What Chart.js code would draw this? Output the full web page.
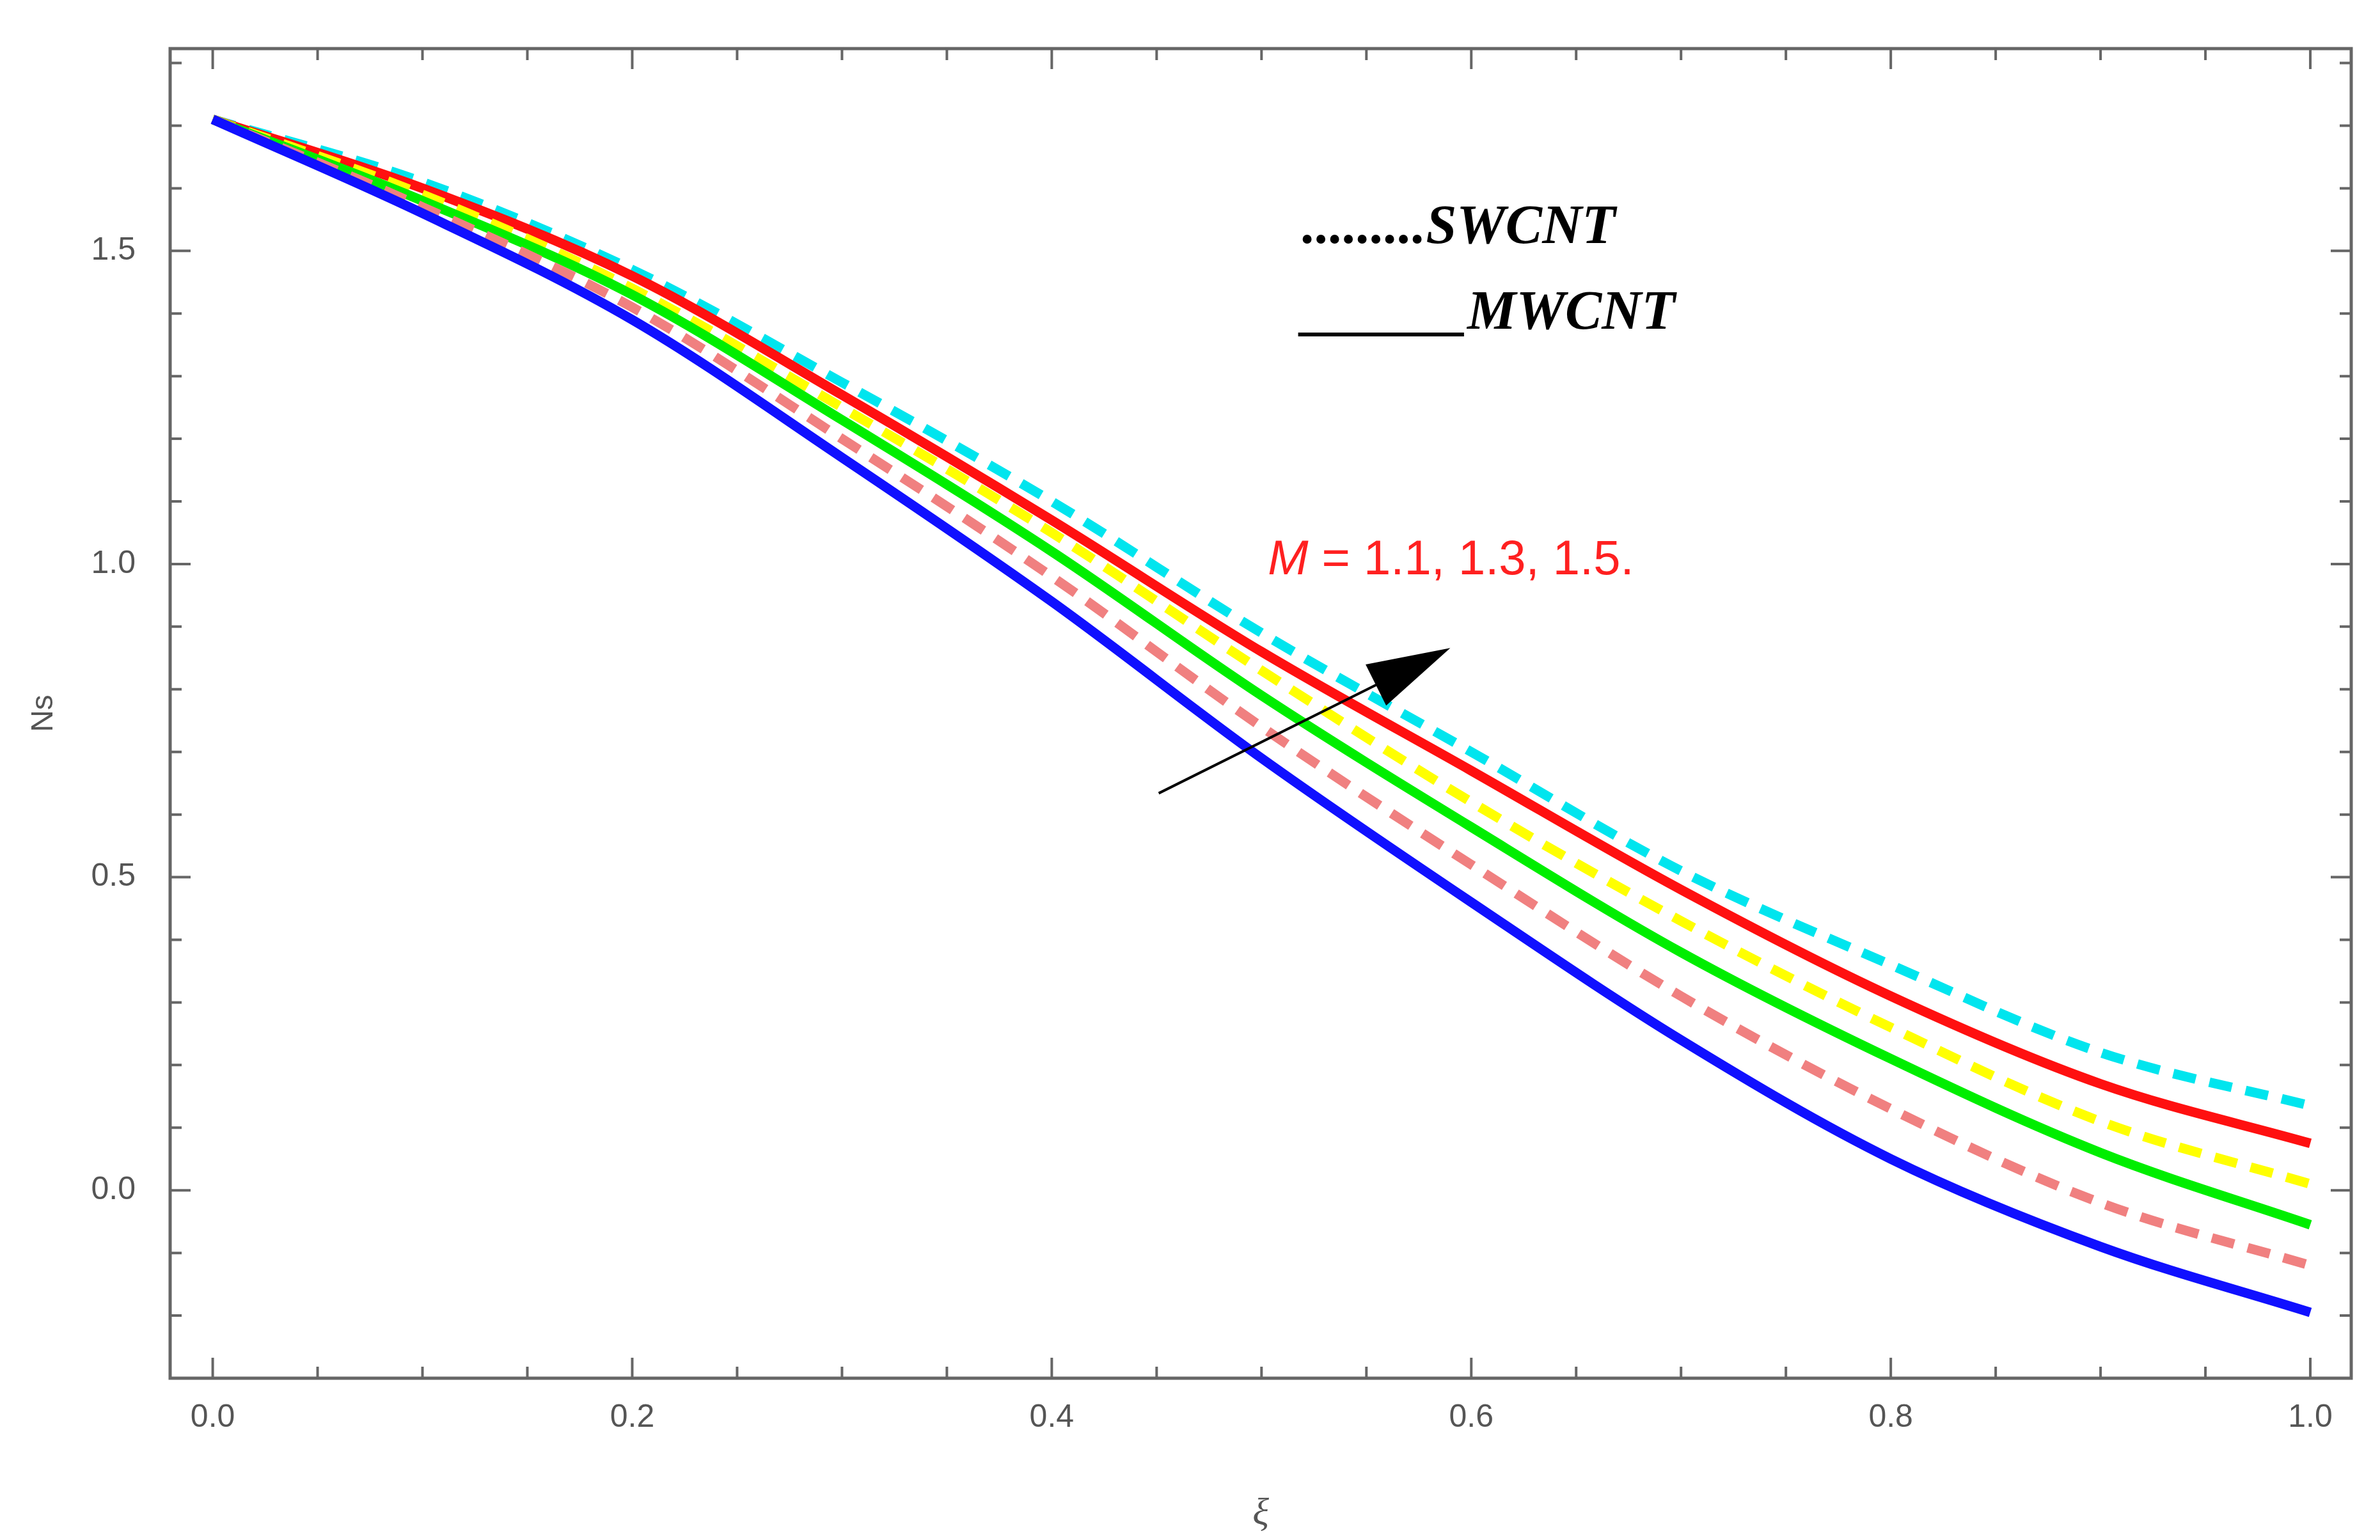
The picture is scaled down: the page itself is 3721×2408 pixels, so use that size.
<!DOCTYPE html>
<html>
<head>
<meta charset="utf-8">
<script src="https://cdn.jsdelivr.net/npm/chart.js@4.4.1/dist/chart.umd.min.js"></script>
<style>
  html, body { margin: 0; padding: 0; background: #fff; }
  #wrap { width: 3721px; height: 2408px; }
</style>
</head>
<body>
<div id="wrap"><canvas id="chart" width="3721" height="2408"></canvas></div>
<script>
// xi values
const xi = [0, 0.1, 0.2, 0.3, 0.4, 0.5, 0.6, 0.7, 0.8, 0.9, 1.0];

// MWCNT (solid)
const mwBlue  = [1.71, 1.56, 1.39, 1.17, 0.94, 0.69, 0.46, 0.24, 0.05, -0.09, -0.195];
const mwGreen = [1.71, 1.58, 1.43, 1.23, 1.02, 0.79, 0.58, 0.38, 0.21, 0.06, -0.055];
const mwRed   = [1.71, 1.60, 1.46, 1.27, 1.07, 0.86, 0.67, 0.48, 0.31, 0.17, 0.075];
// SWCNT (dashed)
const swPink   = [1.71, 1.57, 1.41, 1.20, 0.98, 0.74, 0.52, 0.31, 0.13, -0.02, -0.12];
const swYellow = [1.71, 1.59, 1.44, 1.25, 1.05, 0.83, 0.62, 0.43, 0.26, 0.11, 0.01];
const swCyan   = [1.71, 1.61, 1.47, 1.29, 1.10, 0.89, 0.70, 0.51, 0.36, 0.22, 0.135];

const xTicks = [0, 0.2, 0.4, 0.6, 0.8, 1.0];
const yTicks = [0, 0.5, 1.0, 1.5];

const pts = arr => arr.map((v, i) => ({ x: xi[i], y: v }));
const AXIS = '#666666';

const series = (data, color, dashed) => ({
    data: pts(data),
    borderColor: color,
    borderWidth: 15,
    borderDash: dashed ? [36, 22] : [],
    pointRadius: 0,
    cubicInterpolationMode: 'monotone',
    fill: false
});

// frame, inward ticks, arrow and text notes
const decor = {
    id: 'decor',
    afterDraw(chart) {
        const { ctx, chartArea: a, scales: { x, y } } = chart;
        ctx.save();
        ctx.strokeStyle = AXIS;
        ctx.lineWidth = 5;
        ctx.strokeRect(a.left, a.top, a.right - a.left, a.bottom - a.top);
        ctx.lineWidth = 4;
        for (let v = 0; v <= 1.0001; v += 0.05) {
            const px = x.getPixelForValue(v);
            const major = Math.abs(v * 5 - Math.round(v * 5)) < 1e-6;
            const len = major ? 32 : 18;
            ctx.beginPath();
            ctx.moveTo(px, a.bottom); ctx.lineTo(px, a.bottom - len);
            ctx.moveTo(px, a.top); ctx.lineTo(px, a.top + len);
            ctx.stroke();
        }
        for (let v = -0.2; v <= 1.8001; v += 0.1) {
            const py = y.getPixelForValue(v);
            const major = Math.abs(v * 2 - Math.round(v * 2)) < 1e-6;
            const len = major ? 32 : 18;
            ctx.beginPath();
            ctx.moveTo(a.left, py); ctx.lineTo(a.left + len, py);
            ctx.moveTo(a.right, py); ctx.lineTo(a.right - len, py);
            ctx.stroke();
        }

        // arrow
        const x0 = x.getPixelForValue(0.451), y0 = y.getPixelForValue(0.634);
        const x1 = x.getPixelForValue(0.590), y1 = y.getPixelForValue(0.866);
        const ang = Math.atan2(y1 - y0, x1 - x0);
        ctx.strokeStyle = '#000'; ctx.fillStyle = '#000'; ctx.lineWidth = 4;
        ctx.beginPath();
        ctx.moveTo(x0, y0);
        ctx.lineTo(x1 - 100 * Math.cos(ang), y1 - 100 * Math.sin(ang));
        ctx.stroke();
        ctx.beginPath();
        ctx.moveTo(x1, y1);
        ctx.lineTo(x1 - 130 * Math.cos(ang) + 36 * Math.sin(ang), y1 - 130 * Math.sin(ang) - 36 * Math.cos(ang));
        ctx.lineTo(x1 - 130 * Math.cos(ang) - 36 * Math.sin(ang), y1 - 130 * Math.sin(ang) + 36 * Math.cos(ang));
        ctx.closePath();
        ctx.fill();

        // M label
        ctx.fillStyle = '#ff2020';
        ctx.textBaseline = 'middle';
        ctx.textAlign = 'left';
        const mx = x.getPixelForValue(0.503), my = y.getPixelForValue(1.005);
        ctx.font = 'italic 76px "Liberation Sans", Arial, sans-serif';
        ctx.fillText('M', mx, my);
        const mw = ctx.measureText('M').width;
        ctx.font = '76px "Liberation Sans", Arial, sans-serif';
        ctx.fillText(' = 1.1, 1.3, 1.5.', mx + mw, my);

        // line-style notes
        ctx.fillStyle = '#000';
        ctx.font = 'bold italic 86px "Liberation Serif", "Times New Roman", serif';
        ctx.textBaseline = 'alphabetic';
        ctx.fillText('.........SWCNT', 2036, 380);
        ctx.fillText('______MWCNT', 2036, 514);
        ctx.restore();
    }
};

new Chart(document.getElementById('chart'), {
    type: 'line',
    data: {
        datasets: [
            series(mwBlue, '#1010ff', false),
            series(swPink, '#f08080', true),
            series(mwGreen, '#00ee00', false),
            series(swYellow, '#ffff00', true),
            series(mwRed, '#ff1010', false),
            series(swCyan, '#00e5ee', true)
        ]
    },
    options: {
        responsive: false,
        animation: false,
        devicePixelRatio: 1,
        layout: { padding: { top: 30, right: 45, left: 0, bottom: 0 } },
        plugins: { legend: { display: false }, tooltip: { enabled: false } },
        scales: {
            x: {
                type: 'linear', min: -0.0203, max: 1.0195,
                afterFit: s => { s.height = 253; },
                afterBuildTicks: s => { s.ticks = xTicks.map(v => ({ value: v })); },
                grid: { display: false },
                border: { display: false },
                ticks: {
                    color: '#555', padding: 24,
                    font: { size: 50, family: '"Liberation Sans", Arial, sans-serif' },
                    callback: v => v.toFixed(1)
                },
                title: {
                    display: true, text: 'ξ', color: '#555', padding: { top: 40 },
                    font: { size: 60, style: 'italic', family: '"Liberation Serif", serif' }
                }
            },
            y: {
                type: 'linear', min: -0.30, max: 1.823,
                afterFit: s => { s.width = 266; },
                afterBuildTicks: s => { s.ticks = yTicks.map(v => ({ value: v })); },
                grid: { display: false },
                border: { display: false },
                ticks: {
                    color: '#555', padding: 46,
                    font: { size: 50, family: '"Liberation Sans", Arial, sans-serif' },
                    callback: v => v.toFixed(1)
                },
                title: {
                    display: true, text: 'Ns', color: '#555', padding: { top: 40, bottom: 10 },
                    font: { size: 48, family: '"Liberation Sans", Arial, sans-serif' }
                }
            }
        }
    },
    plugins: [decor]
});
</script>
</body>
</html>
